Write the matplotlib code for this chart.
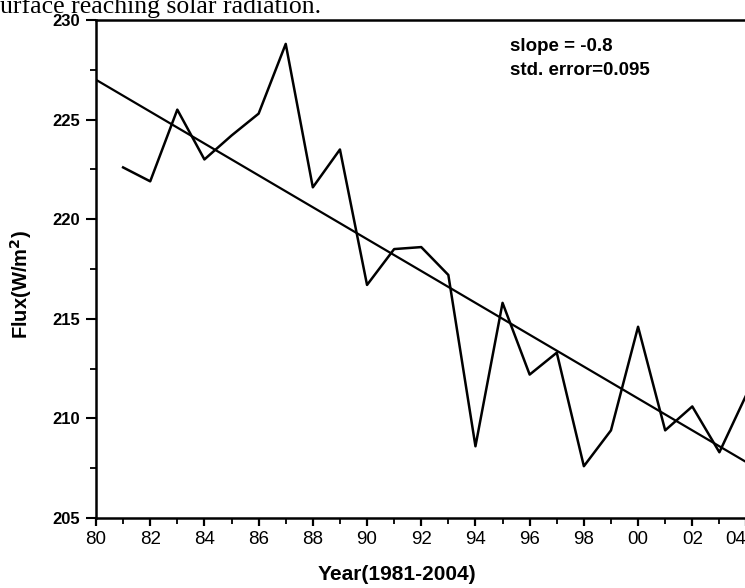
import matplotlib.pyplot as plt
from matplotlib.ticker import MultipleLocator, FixedLocator
import numpy as np

# annual mean surface solar radiation flux (W/m2), 1981-2004
years = np.arange(81, 105)
flux = [222.6, 221.9, 225.5, 223.0, 224.2, 225.3, 228.8, 221.6,
        223.5, 216.7, 218.5, 218.6, 217.2, 208.6, 215.8, 212.2,
        213.3, 207.6, 209.4, 214.6, 209.4, 210.6, 208.3, 211.2]

# linear trend as printed on the figure
trend_x = [80, 104.2]
trend_start = 227.0
trend_slope = -0.8

xtick_pos = list(range(80, 105, 2))
xtick_labels = ['80', '82', '84', '86', '88', '90', '92', '94', '96', '98', '00', '02', '04']

plt.rcParams['font.family'] = ['Liberation Sans', 'DejaVu Sans']

W, H = 745, 588
fig = plt.figure(figsize=(W / 100, H / 100), dpi=100)
ax = fig.add_axes([96 / W, 1 - 518 / H, 1 - 96 / W + 0.002, 498 / H])

ax.plot(years, flux, color='black', lw=1.8)
ty = [trend_start + trend_slope * (x - trend_x[0]) for x in trend_x]
ax.plot(trend_x, ty, color='black', lw=1.6)

ax.set_xlim(80, 104.0)
ax.set_ylim(205, 230)

ax.xaxis.set_major_locator(FixedLocator(xtick_pos))
ax.set_xticklabels(xtick_labels, fontsize=13.5)
ax.xaxis.set_minor_locator(MultipleLocator(1))
ax.yaxis.set_major_locator(MultipleLocator(5))
ax.yaxis.set_minor_locator(MultipleLocator(2.5))
for lab in ax.get_yticklabels():
    lab.set_fontweight('bold')
    lab.set_fontsize(12)

# the "04" label is squeezed in against the right edge in the original
ax.xaxis.get_major_ticks()[-1].label1.set_horizontalalignment('right')

ax.tick_params(axis='y', which='major', direction='out', length=7.5, width=1.5, pad=4)
ax.tick_params(axis='y', which='minor', direction='out', length=4, width=1.3)
ax.tick_params(axis='x', which='major', direction='out', length=5.5, width=1.6, pad=4)
ax.tick_params(axis='x', which='minor', direction='out', length=4, width=1.3)

ax.spines['right'].set_visible(False)
for s in ['left', 'bottom', 'top']:
    ax.spines[s].set_linewidth(1.8)

ax.set_xlabel('Year(1981-2004)', fontsize=15, fontweight='bold')
ax.xaxis.set_label_coords((396 - 96) / (W - 96), -(580 - 518) / 498)
ax.xaxis.label.set_va('baseline')
ax.set_ylabel('Flux(W/m$^\\mathbf{2}$)', fontsize=14.5, fontweight='bold')
ax.yaxis.set_label_coords(-(96 - 21) / (W - 96), (518 - 285) / 498)
ax.yaxis.label.set_va('center')

ax.text(510 / W, 1 - 51 / H, 'slope = -0.8', transform=fig.transFigure,
        fontsize=13.5, fontweight='bold', va='baseline')
ax.text(510 / W, 1 - 75 / H, 'std. error=0.095', transform=fig.transFigure,
        fontsize=13.5, fontweight='bold', va='baseline')

fig.text(0.0, 1 - 13 / H, 'urface reaching solar radiation.', fontsize=18.5,
         family='Liberation Serif', va='baseline', ha='left')

fig.savefig('out.png', dpi=100)
